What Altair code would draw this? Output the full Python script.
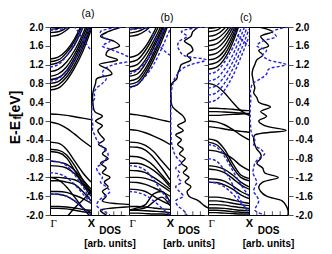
import altair as alt
import pandas as pd

# k-path sample points (Gamma -> X)
K = [0.0, 0.2, 0.4, 0.6, 0.8, 1.0]

# ---------------- band structures (E at each K) ----------------
A_SOLID = [
    [1.95, 1.97, 2.05, 2.2, 2.4, 2.6],
    [1.88, 1.9, 1.98, 2.15, 2.35, 2.6],
    [1.8, 1.83, 1.93, 2.1, 2.3, 2.5],
    [1.32, 1.36, 1.5, 1.75, 2.1, 2.5],
    [1.26, 1.3, 1.45, 1.7, 2.05, 2.45],
    [1.2, 1.24, 1.38, 1.62, 1.98, 2.4],
    [1.05, 1.1, 1.25, 1.5, 1.85, 2.3],
    [0.95, 1.0, 1.15, 1.42, 1.78, 2.2],
    [0.88, 0.92, 1.07, 1.35, 1.7, 2.12],
    [0.8, 0.84, 1.0, 1.28, 1.63, 2.05],
    [0.72, 0.77, 0.93, 1.2, 1.56, 2.0],
    [0.66, 0.7, 0.86, 1.13, 1.48, 1.93],
    [0.15, 0.14, 0.12, 0.09, 0.06, 0.03],
    [-0.02, -0.06, -0.15, -0.28, -0.42, -0.55],
    [-0.45, -0.47, -0.6, -0.85, -1.1, -1.3],
    [-0.6, -0.62, -0.72, -0.95, -1.25, -1.5],
    [-0.65, -0.67, -0.78, -1.05, -1.35, -1.6],
    [-0.85, -0.87, -0.92, -1.05, -1.25, -1.45],
    [-0.95, -0.96, -1.0, -1.12, -1.3, -1.55],
    [-1.2, -1.2, -1.22, -1.25, -1.35, -1.52],
    [-1.27, -1.27, -1.3, -1.35, -1.5, -1.7],
    [-1.5, -1.5, -1.52, -1.58, -1.65, -1.75],
    [-1.55, -1.56, -1.6, -1.7, -1.85, -1.95],
    [-1.82, -1.82, -1.83, -1.85, -1.88, -1.9],
    [-1.86, -1.86, -1.87, -1.9, -1.93, -1.96],
    [-2.3, -2.2, -2.05, -1.85, -1.68, -1.5],
    [-1.2, -1.25, -1.4, -1.62, -1.85, -2.05],
]
A_DASH = [
    [1.93, 1.95, 1.98, 2.05, 2.2, 2.4],
    [2.4, 2.3, 2.15, 2.0, 1.75, 1.5],
    [1.15, 1.2, 1.38, 1.65, 2.0, 2.4],
    [0.85, 0.9, 1.05, 1.3, 1.65, 2.05],
    [-0.85, -0.87, -0.95, -1.15, -1.4, -1.7],
    [-1.1, -1.12, -1.2, -1.35, -1.55, -1.75],
    [-1.55, -1.56, -1.6, -1.7, -1.85, -2.0],
]

B_SOLID = [
    [1.95, 1.97, 2.05, 2.2, 2.4, 2.6],
    [1.87, 1.9, 1.98, 2.12, 2.3, 2.5],
    [1.8, 1.83, 1.92, 2.08, 2.28, 2.5],
    [1.35, 1.4, 1.58, 1.88, 2.25, 2.6],
    [1.25, 1.3, 1.5, 1.8, 2.15, 2.5],
    [1.15, 1.2, 1.4, 1.7, 2.05, 2.45],
    [1.05, 1.1, 1.3, 1.62, 1.98, 2.4],
    [0.95, 1.0, 1.22, 1.55, 1.92, 2.35],
    [0.85, 0.9, 1.12, 1.45, 1.85, 2.3],
    [0.78, 0.83, 1.05, 1.38, 1.78, 2.22],
    [0.72, 0.77, 0.98, 1.3, 1.7, 2.15],
    [0.15, 0.13, 0.1, 0.06, 0.02, -0.02],
    [-0.18, -0.2, -0.25, -0.32, -0.4, -0.5],
    [-0.45, -0.46, -0.52, -0.65, -0.85, -1.05],
    [-0.55, -0.56, -0.62, -0.78, -1.0, -1.25],
    [-0.75, -0.76, -0.82, -0.95, -1.15, -1.35],
    [-0.9, -0.9, -0.95, -1.05, -1.2, -1.4],
    [-1.05, -1.06, -1.1, -1.2, -1.32, -1.45],
    [-1.2, -1.2, -1.22, -1.28, -1.38, -1.5],
    [-1.3, -1.31, -1.35, -1.42, -1.5, -1.6],
    [-1.45, -1.46, -1.5, -1.6, -1.7, -1.78],
    [-1.9, -1.85, -1.78, -1.55, -1.5, -1.72],
    [-1.9, -1.88, -1.85, -1.72, -1.62, -1.8],
    [-1.82, -1.82, -1.83, -1.85, -1.87, -1.88],
    [-1.9, -1.9, -1.91, -1.92, -1.93, -1.95],
    [-1.96, -1.96, -1.97, -1.98, -1.98, -1.99],
]
B_DASH = [
    [1.94, 1.96, 2.0, 2.1, 2.25, 2.4],
    [2.4, 2.2, 2.0, 1.8, 1.55, 1.4],
    [1.0, 1.08, 1.25, 1.5, 1.85, 2.25],
    [0.7, 0.78, 0.95, 1.2, 1.55, 1.95],
    [-0.95, -0.97, -1.05, -1.25, -1.5, -1.75],
    [-1.5, -1.52, -1.58, -1.7, -1.85, -2.0],
]

C_SOLID = [
    [1.97, 1.99, 2.1, 2.3, 2.6, 2.9],
    [1.9, 1.93, 2.05, 2.25, 2.55, 2.9],
    [1.8, 1.84, 1.97, 2.2, 2.5, 2.9],
    [1.7, 1.74, 1.88, 2.12, 2.45, 2.85],
    [1.6, 1.64, 1.79, 2.05, 2.4, 2.8],
    [1.5, 1.54, 1.7, 1.98, 2.35, 2.8],
    [1.4, 1.44, 1.6, 1.9, 2.3, 2.75],
    [1.3, 1.34, 1.5, 1.82, 2.25, 2.7],
    [1.2, 1.24, 1.41, 1.74, 2.2, 2.7],
    [1.1, 1.14, 1.32, 1.66, 2.15, 2.7],
    [0.8, 0.75, 0.6, 0.4, 0.22, 0.12],
    [0.27, 0.27, 0.26, 0.25, 0.23, 0.22],
    [0.2, 0.2, 0.19, 0.18, 0.17, 0.15],
    [0.12, 0.12, 0.13, 0.14, 0.15, 0.16],
    [0.0, -0.02, -0.08, -0.18, -0.3, -0.4],
    [-0.12, -0.14, -0.17, -0.2, -0.22, -0.24],
    [-0.38, -0.42, -0.6, -0.9, -1.15, -1.22],
    [-0.45, -0.5, -0.68, -0.98, -1.2, -1.27],
    [-0.62, -0.64, -0.7, -0.8, -0.95, -1.05],
    [-0.95, -0.97, -1.03, -1.15, -1.3, -1.4],
    [-1.02, -1.04, -1.1, -1.22, -1.36, -1.45],
    [-1.23, -1.24, -1.28, -1.38, -1.5, -1.58],
    [-1.3, -1.31, -1.36, -1.45, -1.57, -1.65],
    [-1.62, -1.62, -1.64, -1.68, -1.72, -1.75],
    [-1.7, -1.7, -1.72, -1.75, -1.78, -1.8],
    [-1.78, -1.78, -1.79, -1.82, -1.84, -1.86],
    [-1.85, -1.85, -1.86, -1.88, -1.9, -1.91],
    [-1.9, -1.9, -1.91, -1.93, -1.94, -1.95],
    [-1.95, -1.95, -1.96, -1.97, -1.98, -1.98],
]
C_DASH = [
    [2.4, 2.3, 2.15, 1.95, 1.75, 1.6],
    [1.0, 1.05, 1.25, 1.55, 1.95, 2.4],
    [0.85, 0.9, 1.1, 1.4, 1.8, 2.25],
    [0.7, 0.75, 0.95, 1.25, 1.65, 2.1],
    [0.55, 0.6, 0.8, 1.1, 1.5, 1.95],
    [0.4, 0.45, 0.65, 0.95, 1.35, 1.8],
    [-0.5, -0.55, -0.75, -1.05, -1.35, -1.6],
    [-0.8, -0.85, -1.05, -1.35, -1.7, -1.95],
    [-1.3, -1.32, -1.4, -1.55, -1.75, -1.9],
]

# ---------------- densities of states ----------------
E_DOS = [2.0, 1.9, 1.8, 1.7, 1.6, 1.5, 1.4, 1.3, 1.2, 1.1, 1.0, 0.9, 0.8, 0.7,
         0.6, 0.5, 0.4, 0.3, 0.2, 0.1, 0.0, -0.1, -0.2, -0.3, -0.4, -0.5, -0.6,
         -0.7, -0.8, -0.9, -1.0, -1.1, -1.2, -1.3, -1.4, -1.5, -1.6, -1.7, -1.8,
         -1.9, -2.0]
DOS_A_SOLID = [0.8, 0.45, 0.25, 0.6, 0.75, 0.45, 0.4, 0.7, 0.22, 0.45, 0.55, 0.15,
               0.12, 0.08, 0.05, 0.04, 0.05, 0.06, 0.1, 0.3, 0.12, 0.3, 0.18, 0.25,
               0.35, 0.2, 0.4, 0.3, 0.45, 0.25, 0.4, 0.3, 0.5, 0.35, 0.45, 0.3, 0.4,
               0.3, 1.2, 0.25, 0.4]
DOS_A_DASH = [0.8, 0.25, 0.3, 0.5, 0.3, 0.6, 0.9, 1.1, 0.6, 0.35, 0.3, 0.4, 0.3,
              0.15, 0.08, 0.1, 0.05, 0.03, 0.02, 0.02, 0.03, 0.05, 0.04, 0.1, 0.15,
              0.25, 0.35, 0.45, 0.4, 0.3, 0.15, 0.2, 0.3, 0.25, 0.4, 0.5, 0.35, 0.2,
              0.15, 0.3, 0.5]
DOS_B_SOLID = [0.75, 0.6, 0.55, 0.38, 0.55, 0.6, 0.45, 0.55, 0.3, 0.25, 0.2, 0.18,
               0.05, 0.02, 0.02, 0.03, 0.03, 0.07, 0.2, 0.35, 0.4, 0.2, 0.35, 0.15,
               0.3, 0.2, 0.35, 0.25, 0.4, 0.3, 0.45, 0.35, 0.5, 0.4, 0.55, 0.45, 0.5,
               0.75, 0.9, 1.1, 1.2]
DOS_B_DASH = [0.85, 0.3, 0.45, 0.25, 0.2, 0.25, 0.35, 0.95, 0.55, 0.3, 0.2, 0.12,
              0.08, 0.05, 0.03, 0.02, 0.02, 0.02, 0.02, 0.02, 0.02, 0.02, 0.02, 0.03,
              0.03, 0.05, 0.08, 0.12, 0.2, 0.3, 0.15, 0.25, 0.2, 0.3, 0.15, 0.25,
              0.35, 0.15, 0.2, 0.35, 0.45]
DOS_C_SOLID = [0.25, 0.6, 0.3, 0.4, 0.5, 0.25, 0.35, 0.2, 0.15, 0.1, 0.08, 0.1, 0.12,
               0.15, 0.12, 0.2, 0.25, 0.55, 0.3, 0.45, 0.25, 0.4, 0.95, 0.15, 0.12,
               0.15, 0.2, 0.3, 0.3, 0.2, 0.35, 0.4, 0.75, 0.35, 0.25, 0.3, 0.45,
               0.85, 0.95, 1.0, 1.0]
DOS_C_DASH = [1.0, 0.6, 0.7, 0.35, 0.2, 0.45, 0.35, 0.5, 0.95, 0.5, 0.45, 0.3, 0.1,
              0.05, 0.03, 0.05, 0.04, 0.03, 0.03, 0.03, 0.03, 0.04, 0.05, 0.08, 0.15,
              0.12, 0.3, 0.4, 0.25, 0.15, 0.12, 0.1, 0.15, 0.2, 0.15, 0.12, 0.2,
              0.25, 0.2, 0.15, 0.4]
DOS_TICKS = [0.2, 0.4, 0.6, 0.8]
Y_TICKS = [2.0, 1.6, 1.2, 0.8, 0.4, 0.0, -0.4, -0.8, -1.2, -1.6, -2.0]
PANEL_TITLES = ["(a)", "(b)", "(c)"]
DOS_TITLE = ["DOS", "[arb. units]"]
Y_TITLE = "E-E  [eV]"
Y_TITLE_SUB = "f"

BLUE = "#2222dd"
FONT = "Liberation Sans"
H = 188
BW = 41
DW = 38

YSCALE = alt.Scale(domain=[-2.0, 2.0], nice=False, zero=False)
UNIT = alt.Scale(domain=[0.0, 1.0], nice=False, zero=False)
LABEL_EXPR = "replace(format(datum.value, '.1f'), '\u2212', '-')"


def y_axis(kind):
    if kind == "left":
        return alt.Axis(values=Y_TICKS, labelExpr=LABEL_EXPR, orient="left",
                        labelFontWeight="bold", labelFontSize=10, tickSize=5,
                        tickColor="#555", domain=False, grid=False,
                        labelOverlap=False,
                        title=Y_TITLE, titleFontSize=14, titleY=90,
                        titleFontWeight="bold", titlePadding=3, labelPadding=2)
    if kind == "right":
        return alt.Axis(values=Y_TICKS, labelExpr=LABEL_EXPR, orient="right",
                        labelFontWeight="bold", labelFontSize=10, tickSize=5,
                        tickColor="#555", domain=False, grid=False, title=None,
                        labelOverlap=False, labelPadding=2)
    if kind == "ticks":
        return alt.Axis(values=Y_TICKS, orient="left", labels=False, tickSize=4,
                        tickColor="#555", domain=False, grid=False, title=None,
                        labelOverlap=False)
    return None


def band_chart(solid, dash, ykind, title):
    rs = pd.DataFrame([{"k": k, "e": e, "b": i}
                       for i, band in enumerate(solid) for k, e in zip(K, band)])
    rd = pd.DataFrame([{"k": k, "e": e, "b": i}
                       for i, band in enumerate(dash) for k, e in zip(K, band)])
    xaxis = alt.Axis(values=[0, 1], labelExpr="datum.value == 0 ? '\u0393' : 'X'",
                     ticks=False, domain=False, grid=False, title=None,
                     labelFontSize=11, labelPadding=2,
                     labelFont={"condition": {"test": "datum.value == 0", "value": "Liberation Serif"}, "value": FONT},
                     labelFontWeight={"condition": {"test": "datum.value == 0", "value": "normal"}, "value": "bold"},
                     labelAlign={"condition": {"test": "datum.value == 0", "value": "left"}, "value": "center"})
    ya = y_axis(ykind)
    s = alt.Chart(rs).mark_line(clip=True, interpolate="monotone", color="black",
                                strokeWidth=1.4).encode(
        x=alt.X("k:Q", scale=UNIT, axis=xaxis),
        y=alt.Y("e:Q", scale=YSCALE, axis=ya),
        detail="b:N")
    d = alt.Chart(rd).mark_line(clip=True, interpolate="monotone", color=BLUE,
                                strokeWidth=1.4, strokeDash=[3, 2]).encode(
        x=alt.X("k:Q", scale=UNIT, axis=xaxis),
        y=alt.Y("e:Q", scale=YSCALE, axis=ya),
        detail="b:N")
    layers = [s, d]
    if ykind == "left":
        sub_df = pd.DataFrame({"t": [Y_TITLE_SUB], "px": [-0.78], "py": [0.07]})
        sub = alt.Chart(sub_df).mark_text(
            angle=270, font=FONT, fontWeight="bold", fontSize=10, color="black",
            clip=False).encode(
            x=alt.X("px:Q", scale=UNIT, axis=xaxis),
            y=alt.Y("py:Q", scale=YSCALE, axis=ya), text="t:N")
        layers.append(sub)
    return alt.layer(*layers).properties(
        width=BW, height=H,
        title=alt.TitleParams(title, anchor="end", align="center", fontSize=10.5,
                              fontWeight="normal", font=FONT, offset=3, dx=-3,
                              frame="group"))


def dos_chart(solid, dash, ykind, w):
    rs = pd.DataFrame({"e": E_DOS, "v": solid, "i": list(range(len(E_DOS)))})
    rd = pd.DataFrame({"e": E_DOS, "v": dash, "i": list(range(len(E_DOS)))})
    rt = pd.DataFrame({"t": DOS_TICKS, "y0": [-2.0] * len(DOS_TICKS),
                       "y1": [-1.92] * len(DOS_TICKS)})
    lab = pd.DataFrame({"t": DOS_TITLE, "px": [0.5, 0.5], "py": [-2.33, -2.62]})
    xaxis = alt.Axis(values=[], ticks=False, labels=False, domain=False, grid=False,
                     title=None)
    ya = y_axis(ykind)
    s = alt.Chart(rs).mark_line(clip=True, interpolate="catmull-rom", color="black",
                                strokeWidth=1.4).encode(
        x=alt.X("v:Q", scale=UNIT, axis=xaxis),
        y=alt.Y("e:Q", scale=YSCALE, axis=ya),
        order="i:Q")
    d = alt.Chart(rd).mark_line(clip=True, interpolate="catmull-rom", color=BLUE,
                                strokeWidth=1.4, strokeDash=[3, 2]).encode(
        x=alt.X("v:Q", scale=UNIT, axis=xaxis),
        y=alt.Y("e:Q", scale=YSCALE, axis=ya),
        order="i:Q")
    t = alt.Chart(rt).mark_rule(color="#555", strokeWidth=1).encode(
        x=alt.X("t:Q", scale=UNIT, axis=xaxis),
        y=alt.Y("y0:Q", scale=YSCALE, axis=ya), y2="y1:Q")
    tx = alt.Chart(lab).mark_text(font=FONT, fontWeight="bold", fontSize=10,
                                  color="black", clip=False, baseline="middle").encode(
        x=alt.X("px:Q", scale=UNIT, axis=xaxis),
        y=alt.Y("py:Q", scale=YSCALE, axis=ya), text="t:N")
    return alt.layer(s, d, t, tx).properties(width=w, height=H)


chart = alt.hconcat(
    band_chart(A_SOLID, A_DASH, "left", PANEL_TITLES[0]),
    dos_chart(DOS_A_SOLID, DOS_A_DASH, None, DW),
    band_chart(B_SOLID, B_DASH, "ticks", PANEL_TITLES[1]),
    dos_chart(DOS_B_SOLID, DOS_B_DASH, None, DW),
    band_chart(C_SOLID, C_DASH, "ticks", PANEL_TITLES[2]),
    dos_chart(DOS_C_SOLID, DOS_C_DASH, "right", DW + 1),
    spacing=0, bounds="flush",
).properties(
    padding={"left": 0, "top": 0, "right": 2, "bottom": 0}
).configure_view(
    stroke="black", strokeWidth=1
).configure_axis(
    labelFont=FONT, titleFont=FONT, labelColor="black", titleColor="black"
)

chart.save("out.html", embed_options={"renderer": "svg", "actions": False})
